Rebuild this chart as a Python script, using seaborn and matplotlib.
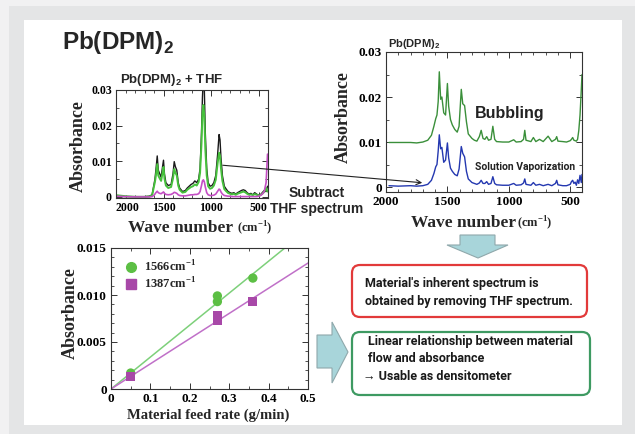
import numpy as np
import pandas as pd
import matplotlib
matplotlib.use("Agg")
import matplotlib.pyplot as plt
import seaborn as sns
from matplotlib.patches import FancyBboxPatch, Polygon, Rectangle, FancyArrowPatch
from matplotlib.lines import Line2D
from matplotlib.ticker import MultipleLocator

# ---------------- data ----------------
# Top-left: Pb(DPM)2 + THF spectra
wn_left = [2000, 1900, 1800, 1700, 1650, 1620, 1600, 1590, 1580, 1566, 1555, 1540, 1525, 1510,
           1500, 1490, 1475, 1450, 1420, 1400, 1387, 1375, 1360, 1345, 1330, 1300, 1270, 1250,
           1230, 1210, 1190, 1170, 1150, 1130, 1115, 1100, 1090, 1080, 1070, 1060, 1045, 1030,
           1010, 990, 970, 950, 930, 915, 905, 895, 880, 860, 840, 820, 800, 780, 760, 740, 720,
           700, 680, 660, 640, 620, 600, 580, 560, 540, 520, 500, 480, 460, 440, 420, 405]
abs_mix_black = [0.0002, 0.0001, 0.0001, 0.0001, 0.0002, 0.0006, 0.0035, 0.005, 0.0075, 0.0115,
                 0.0075, 0.0065, 0.0055, 0.0085, 0.0103, 0.0065, 0.004, 0.0032, 0.0035, 0.0065,
                 0.0099, 0.0085, 0.0075, 0.004, 0.0025, 0.0015, 0.0018, 0.0025, 0.003, 0.0035,
                 0.0038, 0.0045, 0.004, 0.005, 0.008, 0.018, 0.028, 0.034, 0.030, 0.018, 0.008,
                 0.004, 0.003, 0.0032, 0.004, 0.006, 0.012, 0.0175, 0.016, 0.011, 0.006, 0.003,
                 0.0022, 0.0015, 0.0012, 0.001, 0.0012, 0.0008, 0.0012, 0.0015, 0.0018, 0.002,
                 0.0018, 0.0012, 0.0008, 0.001, 0.0006, 0.0012, 0.0008, 0.0005, 0.0006, 0.0012,
                 0.0018, 0.0015, 0.003]
abs_mix_green = [0.0005, 0.0002, 0.0, 0.0, 0.0001, 0.0004, 0.003, 0.0042, 0.006, 0.0092, 0.006,
                 0.0052, 0.0045, 0.0068, 0.0084, 0.0052, 0.0032, 0.0025, 0.0028, 0.0052, 0.0078,
                 0.0068, 0.006, 0.0032, 0.002, 0.0012, 0.0014, 0.002, 0.0024, 0.0028, 0.003,
                 0.0035, 0.0032, 0.0042, 0.0068, 0.015, 0.0235, 0.0258, 0.0225, 0.0135, 0.006,
                 0.003, 0.0023, 0.0025, 0.0032, 0.0048, 0.0095, 0.0124, 0.0115, 0.008, 0.0045,
                 0.0022, 0.0016, 0.0011, 0.0009, 0.0007, 0.0009, 0.0006, 0.0009, 0.0011, 0.0013,
                 0.0015, 0.0013, 0.0009, 0.0006, 0.0007, 0.0005, 0.0008, 0.0006, 0.0004, 0.0005,
                 0.0009, 0.0014, 0.0025, 0.0015]
abs_thf = [0.0002, 0.0001, 0.0, 0.0, 0.0, 0.0001, 0.0005, 0.0008, 0.0012, 0.0016, 0.0012, 0.001,
           0.0009, 0.0012, 0.0014, 0.001, 0.0007, 0.0006, 0.0007, 0.001, 0.0013, 0.0012, 0.001,
           0.0006, 0.0004, 0.0003, 0.0003, 0.0004, 0.0005, 0.0006, 0.0006, 0.0007, 0.0007,
           0.0009, 0.0015, 0.0032, 0.0045, 0.0048, 0.0042, 0.0028, 0.0012, 0.0006, 0.0004,
           0.0004, 0.0005, 0.0008, 0.0016, 0.0022, 0.002, 0.0014, 0.0008, 0.0004, 0.0003,
           0.0002, 0.0002, 0.0001, 0.0001, 0.0001, 0.0001, 0.0001, 0.0001, 0.0001, 0.0001,
           0.0001, 0.0001, 0.0001, 0.0001, 0.0001, 0.0001, 0.0002, 0.0004, 0.0008, 0.0015,
           0.004, 0.012]

# Top-right: Pb(DPM)2 spectra
wn_right = [1976, 1900, 1800, 1750, 1700, 1660, 1630, 1610, 1595, 1585, 1575, 1566, 1555, 1545,
            1530, 1515, 1500, 1490, 1475, 1460, 1440, 1420, 1405, 1387, 1375, 1360, 1345, 1330,
            1300, 1280, 1260, 1240, 1225, 1210, 1195, 1180, 1165, 1145, 1130, 1115, 1100, 1050,
            1000, 960, 940, 900, 880, 870, 860, 820, 800, 780, 750, 720, 680, 650, 620, 610, 600,
            560, 530, 500, 490, 480, 470, 460, 450, 440, 430, 420, 410, 404]
abs_solution = [0.0003, 0.0002, 0.0003, 0.0002, 0.0003, 0.0006, 0.0015, 0.003, 0.0045, 0.005,
                0.008, 0.0116, 0.0085, 0.0088, 0.0055, 0.006, 0.0098, 0.0065, 0.0042, 0.0035,
                0.0028, 0.0025, 0.004, 0.009, 0.0075, 0.0067, 0.0035, 0.0018, 0.001, 0.0008,
                0.0006, 0.0009, 0.0015, 0.0008, 0.0008, 0.0012, 0.0006, 0.0008, 0.0023, 0.0008,
                0.0005, 0.0004, 0.0004, 0.0008, 0.0004, 0.0005, 0.0009, 0.0018, 0.0006, 0.0004,
                0.001, 0.0004, 0.0006, 0.0003, 0.0006, 0.0003, 0.0008, 0.0015, 0.0005, 0.0003,
                0.0003, 0.0006, 0.0012, 0.0015, 0.0008, 0.0011, 0.0004, 0.0016, 0.0008, 0.0026,
                0.001, 0.0028]
abs_bubbling = [0.0099, 0.0099, 0.0099, 0.0098, 0.0100, 0.0104, 0.0115, 0.0135, 0.0152, 0.016,
                0.019, 0.0256, 0.0195, 0.020, 0.0165, 0.016, 0.023, 0.018, 0.015, 0.0138, 0.0128,
                0.0122, 0.0135, 0.0217, 0.0185, 0.0181, 0.0145, 0.0118, 0.0108, 0.0104, 0.0102,
                0.0112, 0.0126, 0.0108, 0.0106, 0.0112, 0.0104, 0.0106, 0.0135, 0.0106, 0.0101,
                0.0100, 0.0100, 0.0105, 0.0100, 0.0101, 0.0106, 0.0126, 0.0104, 0.0101, 0.011,
                0.0101, 0.0106, 0.0101, 0.0113, 0.0101, 0.0106, 0.0112, 0.0102, 0.0101, 0.0100,
                0.0103, 0.0106, 0.011, 0.0104, 0.0103, 0.0102, 0.0106, 0.0126, 0.016, 0.0215,
                0.025]

# Bottom: absorbance vs material feed rate
feed_rate = [0.05, 0.27, 0.27, 0.36]
abs_1566 = [0.0017, 0.0099, 0.0093, 0.0118]
abs_1387 = [0.0013, 0.0078, 0.0073, 0.0093]
fit_x = [0.0, 0.5]
fit_1566 = [0.0, 0.0170]
fit_1387 = [0.0, 0.0134]

left_ticks = [2000, 1500, 1000, 500]
left_tick_labels = ["2000", "1500", "1000", "500"]
abs_ticks_top = [0, 0.01, 0.02, 0.03]
abs_tick_labels_top = ["0", "0.01", "0.02", "0.03"]
feed_ticks = [0, 0.1, 0.2, 0.3, 0.4, 0.5]
feed_tick_labels = ["0", "0.1", "0.2", "0.3", "0.4", "0.5"]
abs_ticks_bot = [0, 0.005, 0.010, 0.015]
abs_tick_labels_bot = ["0", "0.005", "0.010", "0.015"]

# ---------------- style ----------------
sns.set_style("ticks")
plt.rcParams["font.family"] = ["Liberation Sans", "DejaVu Sans"]
plt.rcParams["mathtext.fontset"] = "custom"
plt.rcParams["mathtext.bf"] = "Liberation Serif:bold"
plt.rcParams["mathtext.sf"] = "Liberation Sans:bold"
plt.rcParams["mathtext.rm"] = "Liberation Serif:bold"

W, H = 635, 434
fig = plt.figure(figsize=(W / 100, H / 100), dpi=100)
fig.patch.set_facecolor("#f1f1f2")

def P(x, y):
    return x, H - y

def figtext(x, y, s, **kw):
    return fig.text(x / W, 1 - y / H, s, **kw)

# background panels (pixel coordinates)
fig.add_artist(Rectangle(P(9, 434), 626, 428, transform=None, facecolor="#e4e5e6",
                         edgecolor="none", zorder=-10))
fig.add_artist(Rectangle(P(24, 425), 598, 405, transform=None, facecolor="white",
                         edgecolor="none", zorder=-9))

def ax_px(l, t, r, b):
    return fig.add_axes([l / W, 1 - b / H, (r - l) / W, (b - t) / H])

serif_bold = dict(family="Liberation Serif", weight="bold")
narrow = ["Roboto", "Liberation Sans", "DejaVu Sans"]

def style_axes(ax, tick_size):
    for sp in ax.spines.values():
        sp.set_visible(True)
        sp.set_linewidth(0.8)
        sp.set_color("#333333")
    ax.tick_params(which="both", direction="in", top=True, right=True, colors="#333333",
                   labelcolor="black", labelsize=tick_size, pad=3)
    ax.tick_params(which="major", length=4, width=0.7)
    ax.tick_params(which="minor", length=2, width=0.6)
    for lab in ax.get_xticklabels() + ax.get_yticklabels():
        lab.set_fontfamily("Liberation Serif")
        lab.set_fontweight("bold")
    ax.set_facecolor("white")
    ax.set_xlabel("")
    ax.set_ylabel("")

# ---------------- top-left spectrum ----------------
ax1 = ax_px(116, 90, 268, 198)
df_left = pd.DataFrame({"wn": wn_left, "black": abs_mix_black, "green": abs_mix_green,
                        "thf": abs_thf})
sns.lineplot(data=df_left, x="wn", y="black", ax=ax1, color="#1a1a1a", lw=1.0, sort=False)
sns.lineplot(data=df_left, x="wn", y="green", ax=ax1, color="#46c03c", lw=1.4, sort=False)
sns.lineplot(data=df_left, x="wn", y="thf", ax=ax1, color="#c44ec4", lw=1.2, sort=False)
ax1.set_xlim(2000, 400)
ax1.set_ylim(-0.0003, 0.03)
ax1.set_xticks(left_ticks)
ax1.set_xticklabels(left_tick_labels)
ax1.set_yticks(abs_ticks_top)
ax1.set_yticklabels(abs_tick_labels_top)
ax1.xaxis.set_minor_locator(MultipleLocator(100))
ax1.yaxis.set_minor_locator(MultipleLocator(0.005))
style_axes(ax1, 8.5)
ax1.get_xticklabels()[0].set_horizontalalignment("left")

# ---------------- top-right spectrum ----------------
ax2 = ax_px(386, 52, 582, 192)
df_right = pd.DataFrame({"wn": wn_right, "sol": abs_solution, "bub": abs_bubbling})
sns.lineplot(data=df_right, x="wn", y="bub", ax=ax2, color="#3a8f3a", lw=1.0, sort=False)
sns.lineplot(data=df_right, x="wn", y="sol", ax=ax2, color="#2438b0", lw=1.0, sort=False)
ax2.set_xlim(1976, 404)
ax2.set_ylim(-0.0011, 0.03)
ax2.set_xticks(left_ticks)
ax2.set_xticklabels(left_tick_labels)
ax2.set_yticks(abs_ticks_top)
ax2.set_yticklabels(abs_tick_labels_top)
ax2.xaxis.set_minor_locator(MultipleLocator(100))
ax2.yaxis.set_minor_locator(MultipleLocator(0.005))
style_axes(ax2, 9.5)
ax2.text(0.454, 0.564, "Bubbling", transform=ax2.transAxes, fontsize=11.5, fontweight="bold",
         ha="left", va="center", color="#222222")
ax2.text(0.454, 0.18, "Solution Vaporization", transform=ax2.transAxes, fontsize=7.5,
         fontweight="bold", family=narrow, ha="left", va="center", color="#222222")

# ---------------- bottom scatter ----------------
ax3 = ax_px(111, 248, 308, 389)
df_fit = pd.DataFrame({"x": fit_x, "g": fit_1566, "m": fit_1387})
sns.lineplot(data=df_fit, x="x", y="g", ax=ax3, color="#7dd07a", lw=1.1)
sns.lineplot(data=df_fit, x="x", y="m", ax=ax3, color="#c070c8", lw=1.1)
df_pts = pd.DataFrame({"rate": feed_rate, "a1566": abs_1566, "a1387": abs_1387})
sns.scatterplot(data=df_pts, x="rate", y="a1566", ax=ax3, color="#5cbf44", marker="o",
                s=45, edgecolor="none", zorder=3)
sns.scatterplot(data=df_pts, x="rate", y="a1387", ax=ax3, color="#a848a8", marker="s",
                s=45, edgecolor="none", zorder=3)
ax3.set_xlim(0, 0.5)
ax3.set_ylim(0, 0.015)
ax3.set_xticks(feed_ticks)
ax3.set_xticklabels(feed_tick_labels)
ax3.set_yticks(abs_ticks_bot)
ax3.set_yticklabels(abs_tick_labels_bot)
ax3.xaxis.set_minor_locator(MultipleLocator(0.05))
ax3.yaxis.set_minor_locator(MultipleLocator(0.001))
style_axes(ax3, 9.5)
handles = [Line2D([], [], marker="o", ls="none", color="#5cbf44", markersize=7),
           Line2D([], [], marker="s", ls="none", color="#a848a8", markersize=7)]
leg = ax3.legend(handles, [r"1566cm$^{\mathbf{-1}}$", r"1387cm$^{\mathbf{-1}}$"],
                 loc="upper left", bbox_to_anchor=(0.02, 0.98), frameon=False,
                 handletextpad=0.4, labelspacing=0.1, borderpad=0.2, handlelength=1.2,
                 prop=dict(family="Liberation Serif", weight="bold", size=9))

# ---------------- titles & labels ----------------
figtext(62, 49, r"Pb(DPM)$_\mathsf{2}$", fontsize=17.5, fontweight="bold", va="baseline",
        ha="left")
figtext(120, 83, r"Pb(DPM)$_\mathsf{2}$ + THF", fontsize=9.5, fontweight="bold",
        va="baseline", ha="left")
figtext(388, 47, r"Pb(DPM)$_\mathsf{2}$", fontsize=8, fontweight="bold", va="baseline",
        ha="left")

figtext(78, 146, "Absorbance", rotation=90, fontsize=13, ha="center", va="center",
        **serif_bold)
figtext(343, 117, "Absorbance", rotation=90, fontsize=13, ha="center", va="center",
        **serif_bold)
figtext(70, 313, "Absorbance", rotation=90, fontsize=13, ha="center", va="center",
        **serif_bold)

figtext(128, 232, "Wave number", fontsize=12.5, ha="left", va="baseline", **serif_bold)
figtext(237, 232, r"(cm$^{\mathbf{-1}}$)", fontsize=9, ha="left", va="baseline",
        **serif_bold)
figtext(411, 227, "Wave number", fontsize=12.5, ha="left", va="baseline", **serif_bold)
figtext(517, 227, r"(cm$^{\mathbf{-1}}$)", fontsize=9, ha="left", va="baseline",
        **serif_bold)
figtext(208, 419, "Material feed rate (g/min)", fontsize=10.5, ha="center", va="baseline",
        **serif_bold)

figtext(317, 193, "Subtract", fontsize=10, fontweight="bold", ha="center", va="center")
figtext(317, 209, "THF spectrum", fontsize=10, fontweight="bold", ha="center", va="center")

# connector arrow between spectra
fig.add_artist(FancyArrowPatch(P(220, 165), P(425, 183), transform=None, arrowstyle="->",
                               mutation_scale=9, lw=0.8, color="#222222", zorder=20))

# cyan arrows
arrow_fc, arrow_ec = "#a8d5da", "#8fa8ab"
down = [P(460, 235), P(495, 235), P(495, 245), P(508, 245), P(478, 258), P(447, 245),
        P(460, 245)]
fig.add_artist(Polygon(down, closed=True, transform=None, facecolor=arrow_fc,
                       edgecolor=arrow_ec, lw=0.8))
right = [P(317, 335), P(332, 335), P(332, 322), P(348, 352), P(332, 383), P(332, 368),
         P(317, 368)]
fig.add_artist(Polygon(right, closed=True, transform=None, facecolor=arrow_fc,
                       edgecolor=arrow_ec, lw=0.8))

# rounded boxes
fig.add_artist(FancyBboxPatch(P(352, 317), 235, 52, boxstyle="round,pad=0,rounding_size=8",
                              transform=None, facecolor="white", edgecolor="#e23a3a", lw=1.6))
fig.add_artist(FancyBboxPatch(P(352, 395), 238, 63, boxstyle="round,pad=0,rounding_size=8",
                              transform=None, facecolor="white", edgecolor="#3e9a62", lw=1.6))

box_kw = dict(fontsize=9, fontweight="bold", family=narrow, ha="left", va="center",
              color="#1a1a1a")
figtext(365, 283, "Material's inherent spectrum is", **box_kw)
figtext(365, 302, "obtained by removing THF spectrum.", **box_kw)
figtext(368, 342, "Linear relationship between material", **box_kw)
figtext(368, 359, "flow and absorbance", **box_kw)
figtext(363, 377, "\u2192 Usable as densitometer", **box_kw)

fig.savefig("out.png", dpi=100)
